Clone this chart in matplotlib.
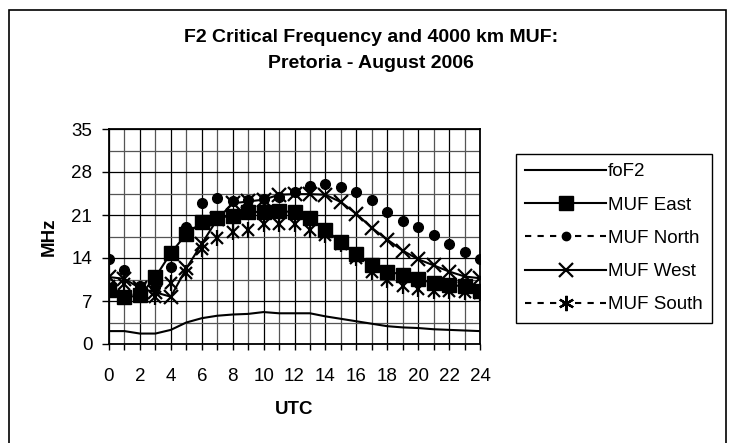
import matplotlib.pyplot as plt
from matplotlib.lines import Line2D
from matplotlib.patches import Rectangle

# hours UTC
utc = list(range(25))

fof2 = [2.1, 2.1, 1.7, 1.7, 2.3, 3.5, 4.2, 4.6, 4.8, 4.9, 5.2, 5.0, 5.0,
        5.0, 4.5, 4.1, 3.7, 3.3, 2.9, 2.7, 2.6, 2.4, 2.3, 2.2, 2.1]
muf_east = [8.8, 7.6, 7.9, 10.9, 14.8, 17.9, 19.8, 20.5, 20.9, 21.5, 21.5, 21.6, 21.5,
            20.5, 18.6, 16.6, 14.7, 12.8, 11.8, 11.3, 10.6, 9.9, 9.6, 9.4, 8.7]
muf_north = [13.9, 12.0, 9.5, 9.3, 12.6, 19.0, 23.0, 23.7, 23.2, 23.5, 23.6, 24.0, 24.7,
             25.7, 26.0, 25.5, 24.7, 23.5, 21.5, 20.1, 19.0, 17.8, 16.3, 14.9, 13.9]
muf_west = [10.9, 10.6, 9.1, 8.4, 7.7, 12.3, 16.3, 20.3, 22.9, 23.2, 23.5, 24.3, 24.4,
            24.4, 24.3, 23.1, 21.2, 18.9, 17.0, 15.2, 13.8, 12.8, 11.8, 11.0, 10.7]
muf_south = [9.5, 9.8, 9.0, 7.6, 9.9, 11.6, 15.5, 17.2, 18.3, 18.6, 19.6, 19.6, 19.6,
             18.6, 17.8, 16.2, 14.0, 11.8, 10.4, 9.5, 9.0, 8.7, 8.6, 8.5, 8.3]

plt.rcParams['font.family'] = ['Liberation Sans', 'DejaVu Sans']

fig = plt.figure(figsize=(7.3, 4.43), dpi=100)
fig.patches.append(Rectangle((9 / 730, -0.01), 717 / 730, 433 / 443 + 0.01,
                             transform=fig.transFigure, fill=False,
                             edgecolor='black', linewidth=1.2))

ax = fig.add_axes([109 / 730, 99 / 443, 371 / 730, 215 / 443])

ax.plot(utc, fof2, color='black', lw=1.5)
ax.plot(utc, muf_east, color='black', lw=1.5, marker='s', ms=10)
ax.plot(utc, muf_north, color='black', ls='none', marker='o', ms=7)
ax.plot(utc, muf_west, color='black', lw=1.5, marker='x', ms=10, mew=1.6)
ax.plot(utc, muf_south, color='black', ls='none', marker='x', ms=9, mew=1.6)
ax.plot(utc, muf_south, color='black', ls='none', marker='|', ms=11, mew=1.6)

ax.set_xlim(0, 24)
ax.set_ylim(0, 35)
ax.set_xticks(range(0, 25, 2))
ax.set_xticks(range(25), minor=True)
ax.set_yticks([0, 7, 14, 21, 28, 35])
ax.set_yticks([3.5, 10.5, 17.5, 24.5, 31.5], minor=True)
ax.grid(which='major', color='black', lw=0.9)
ax.grid(which='minor', color='#555555', lw=0.9)
ax.set_axisbelow(True)
for s in ax.spines.values():
    s.set_linewidth(1.3)
ax.tick_params(axis='x', which='both', direction='out', length=4, width=1, pad=13, labelsize=13.5)
ax.tick_params(axis='y', which='major', direction='out', length=5, width=1, pad=7, labelsize=13.5)
ax.tick_params(axis='y', which='minor', length=0)

ax.set_xlabel('UTC', fontsize=13.5, fontweight='bold', labelpad=12)
ax.set_ylabel('MHz', fontsize=13.5, fontweight='bold', labelpad=10)

fig.text(371 / 730, 1 - 37 / 443, 'F2 Critical Frequency and 4000 km MUF:',
         ha='center', va='center', fontsize=14, fontweight='bold')
fig.text(371 / 730, 1 - 63 / 443, 'Pretoria - August 2006',
         ha='center', va='center', fontsize=14, fontweight='bold')

handles = [
    Line2D([], [], color='black', lw=1.5),
    Line2D([], [], color='black', lw=1.5, marker='s', ms=10),
    Line2D([], [], color='black', lw=1.5, ls=(0, (3, 3)), marker='o', ms=6),
    Line2D([], [], color='black', lw=1.5, marker='x', ms=10, mew=1.6),
    Line2D([], [], color='black', lw=1.5, ls=(0, (3, 3)), marker=(6, 2, 0), ms=11, mew=1.6),
]
labels = ['foF2', 'MUF East', 'MUF North', 'MUF West', 'MUF South']
leg = fig.legend(handles, labels, loc='upper left', bbox_to_anchor=(516 / 730, 1 - 154 / 443),
                 fontsize=13.5, handlelength=4.3, handletextpad=0.1, labelspacing=0.86,
                 borderpad=0.5, fancybox=False, framealpha=1, edgecolor='black',
                 borderaxespad=0)
leg.get_frame().set_linewidth(1.0)

fig.savefig('out.png', dpi=100)
